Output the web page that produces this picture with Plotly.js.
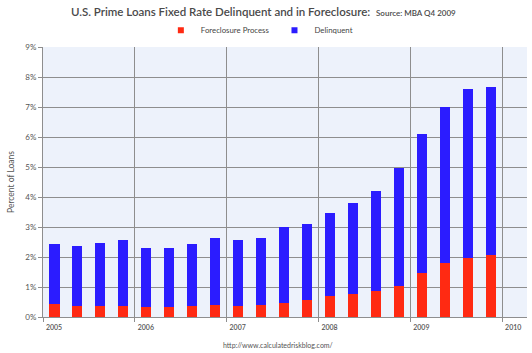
<!DOCTYPE html>
<html>
<head>
<meta charset="utf-8">
<script src="https://cdn.plot.ly/plotly-3.0.1.min.js"></script>
<style>html,body{margin:0;padding:0;background:#fff;}#chart{width:532px;height:353px;}</style>
</head>
<body>
<div id="chart"></div>
<script>
// Quarter positions (decimal years), 2005 Q1 .. 2009 Q4
const quarters = [2005.125,2005.375,2005.625,2005.875,2006.125,2006.375,2006.625,2006.875,
  2007.125,2007.375,2007.625,2007.875,2008.125,2008.375,2008.625,2008.875,
  2009.125,2009.375,2009.625,2009.875];
// Percent of loans in foreclosure process
const foreclosure = [0.42,0.37,0.37,0.37,0.33,0.33,0.37,0.41,0.37,0.41,
  0.48,0.56,0.69,0.76,0.87,1.05,1.47,1.81,1.96,2.08];
const totals = [2.42,2.37,2.48,2.58,2.31,2.31,2.45,2.65,2.56,2.65,
  3.00,3.11,3.47,3.81,4.20,4.98,6.11,7.00,7.59,7.66];
const delinquent = totals.map((t,i)=>+(t-foreclosure[i]).toFixed(2));
const yearTicks = [2005,2006,2007,2008,2009,2010];
const yearLabels = ['2005','2006','2007','2008','2009','2010'];
const yTicks = [0,1,2,3,4,5,6,7,8,9];
const yLabels = yTicks.map(v=>v+'%');
const seriesNames = ['Foreclosure Process','Delinquent'];
const seriesColors = ['#ff2a12','#2b1cff'];

const traces = [
  {type:'bar', name:seriesNames[0], x:quarters, y:foreclosure, width:0.11,
   marker:{color:seriesColors[0]}, showlegend:false},
  {type:'bar', name:seriesNames[1], x:quarters, y:delinquent, width:0.11,
   marker:{color:seriesColors[1]}, showlegend:false},
  // legend-only entries with small square keys
  {type:'scatter', mode:'markers', name:seriesNames[0], x:[null], y:[null],
   marker:{symbol:'square', size:6, color:seriesColors[0]}},
  {type:'scatter', mode:'markers', name:seriesNames[1], x:[null], y:[null],
   marker:{symbol:'square', size:6, color:seriesColors[1]}}
];

const layout = {
  width:532, height:353,
  margin:{l:43, r:5, t:47, b:36},
  paper_bgcolor:'#ffffff',
  plot_bgcolor:'#edf2fb',
  barmode:'stack',
  showlegend:true,
  font:{family:'Lato, sans-serif', color:'#555'},
  title:{text:'U.S. Prime Loans Fixed Rate Delinquent and in Foreclosure:  <span style="font-size:8px">Source: MBA Q4 2009</span>',
    font:{size:11.5, color:'#4a4a4a', family:'Lato, sans-serif', weight:600},
    x:0.495, xanchor:'center', y:0.965, yanchor:'middle'},
  legend:{orientation:'h', x:0.447, xanchor:'center', y:1.062, yanchor:'middle',
    traceorder:'normal', font:{size:7.8, color:'#444'}, itemwidth:30,
    bgcolor:'rgba(0,0,0,0)', tracegroupgap:0},
  xaxis:{range:[2005,2010.27], tickvals:yearTicks, ticktext:yearLabels,
    showgrid:true, gridcolor:'#8e8e8e', gridwidth:1,
    showline:true, linecolor:'#8e8e8e', ticks:'outside', ticklen:4, tickcolor:'#8e8e8e',
    ticklabelshift:11, tickfont:{size:7, color:'#555', weight:600}, zeroline:false},
  yaxis:{range:[0,9], tickvals:yTicks, ticktext:yLabels,
    showgrid:true, gridcolor:'#8e8e8e', gridwidth:1,
    showline:true, linecolor:'#8e8e8e', ticks:'outside', ticklen:4, tickcolor:'#8e8e8e',
    tickfont:{size:8, color:'#555'}, zeroline:false,
    title:{text:'Percent of Loans', font:{size:8.5, color:'#555'}, standoff:9}},
  annotations:[
    {text:'http://www.calculatedriskblog.com/', xref:'paper', yref:'paper',
     x:0.486, y:-0.083, yanchor:'top', xanchor:'center', showarrow:false,
     font:{size:7, color:'#555'}}
  ]
};
Plotly.newPlot('chart', traces, layout, {displayModeBar:false, staticPlot:true});
</script>
</body>
</html>
